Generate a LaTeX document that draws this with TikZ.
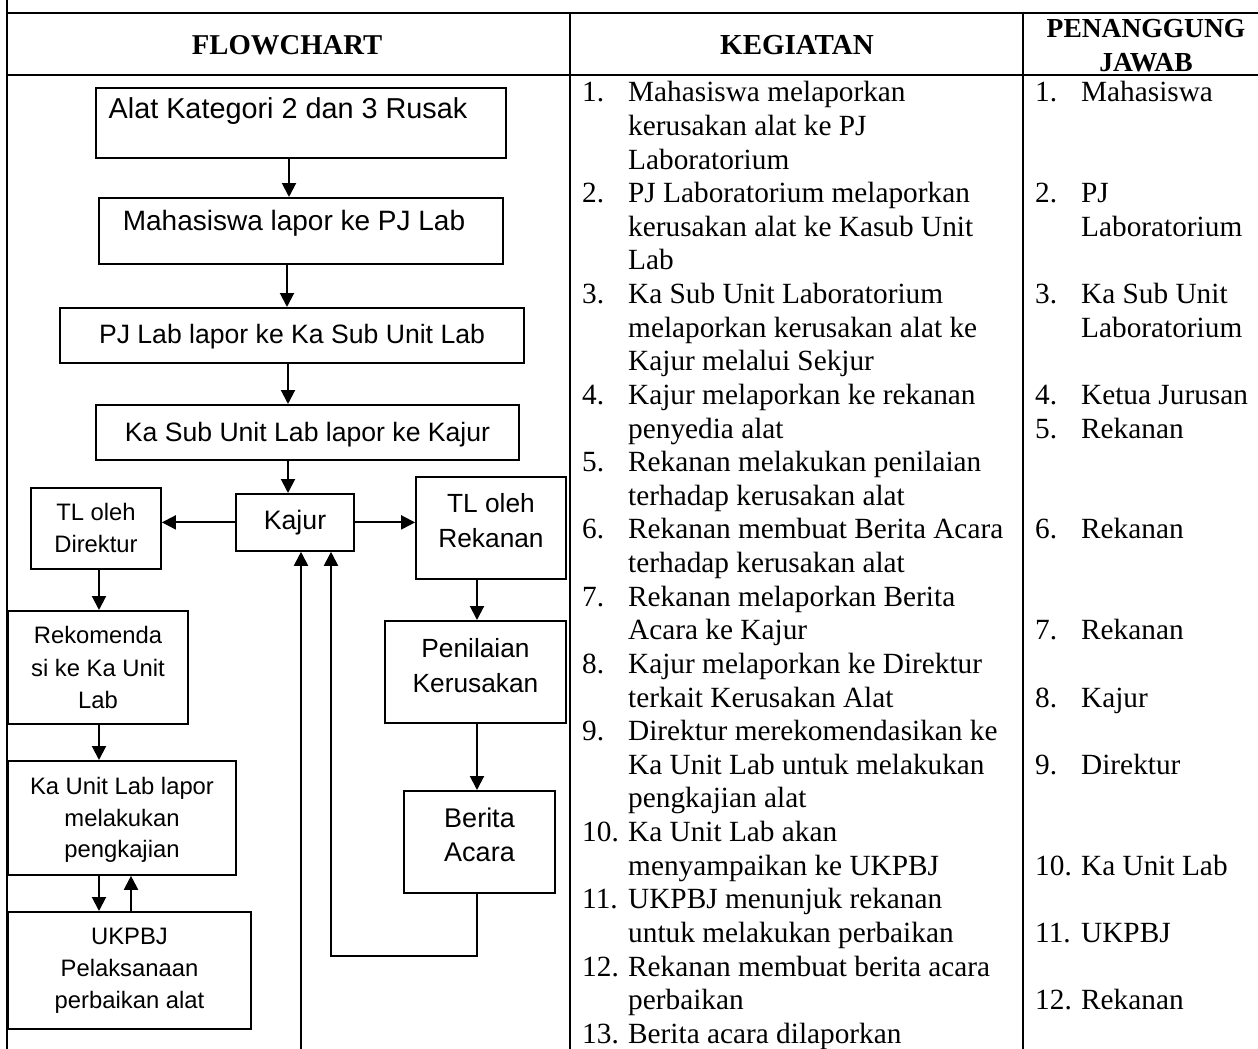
\documentclass[tikz,border=0pt]{standalone}
\usepackage{fontspec}
\setmainfont{Liberation Serif}
\newfontfamily\arialfont{Liberation Sans}
\usetikzlibrary{arrows.meta}
\newcommand{\fsz}[2]{\fontsize{#1}{#2}\selectfont}
\tikzset{
  tline/.style={line width=2pt},
  box/.style={draw, line width=1.8pt, inner sep=0pt, align=center, anchor=north},
  fnt/.style 2 args={font=\arialfont\fontsize{#1}{#2}\selectfont},
  arr/.style={line width=2pt, -{Triangle[length=14pt,width=14pt]}},
  hdr/.style={anchor=base, inner sep=0pt},
  col/.style={anchor=north west, inner sep=0pt, font=\fsz{29.3}{33.63}},
}
\begin{document}
\begin{tikzpicture}[x=1pt,y=-1pt]
\useasboundingbox (0,0) rectangle (1258,1049);
% table grid
\draw[tline] (6.5,0) -- (6.5,1049);
\draw[tline] (6.5,12.7) -- (1258,12.7);
\draw[tline] (6.5,75.5) -- (1258,75.5);
\draw[tline] (570,12.7) -- (570,1049);
\draw[tline] (1023,12.7) -- (1023,1049);
% headers
\node[hdr, font=\bfseries\fsz{28.7}{33}] (hflow) at (287,55) {FLOWCHART};
\node[hdr, font=\bfseries\fsz{29}{33}] (hkeg) at (797,55) {KEGIATAN};
\node[hdr, align=center, font=\bfseries\fsz{27.5}{34}] (hpj) at (1146,72) {PENANGGUNG\\JAWAB};
% flowchart boxes (text height = last baseline - top, text depth = bottom - last baseline)
\node[box, fnt={28.8}{33}, minimum width=410pt, text height=31pt, text depth=39pt] (b1) at (301,87) {Alat Kategori 2 dan 3 Rusak\hspace*{26pt}};
\node[box, fnt={28}{33}, minimum width=404pt, text height=33pt, text depth=33pt] (b2) at (301,197) {Mahasiswa lapor ke PJ Lab\hspace*{14pt}};
\node[box, fnt={26.6}{32}, minimum width=464pt, text height=36pt, text depth=19pt] (b3) at (292,307) {PJ Lab lapor ke Ka Sub Unit Lab};
\node[box, fnt={26.6}{32}, minimum width=423pt, text height=37pt, text depth=18pt] (b4) at (307.5,404) {Ka Sub Unit Lab lapor ke Kajur};
\node[box, fnt={26.7}{32}, minimum width=118pt, text height=36pt, text depth=21pt] (kajur) at (295,493) {Kajur};
\node[box, fnt={23.8}{32.4}, minimum width=130pt, text height=64.7pt, text depth=16.3pt] (tldir) at (96,487) {TL oleh\\Direktur};
\node[box, fnt={26.3}{35}, minimum width=150pt, text height=70.7pt, text depth=31.3pt] (tlrek) at (491,476) {TL oleh\\Rekanan};
\node[box, fnt={23.8}{32.2}, minimum width=180pt, text height=97.3pt, text depth=15.7pt] (rekom) at (98,610) {Rekomenda\\si ke Ka Unit\\Lab};
\node[box, fnt={23.8}{31.4}, minimum width=228pt, text height=96.7pt, text depth=17.3pt] (kaunit) at (122,760) {Ka Unit Lab lapor\\melakukan\\pengkajian};
\node[box, fnt={23.8}{32}, minimum width=243pt, text height=96.3pt, text depth=20.7pt] (ukpbj) at (129.5,911) {UKPBJ\\Pelaksanaan\\perbaikan alat};
\node[box, fnt={26.3}{35}, minimum width=181pt, text height=71.7pt, text depth=30.3pt] (penil) at (475.5,620) {Penilaian\\Kerusakan};
\node[box, fnt={27}{34}, minimum width=151pt, text height=70.7pt, text depth=31.3pt] (berita) at (479.5,790) {Berita\\Acara};
% helper coordinates
\coordinate (x289) at (289,0);
\coordinate (x287) at (287,0);
\coordinate (x288) at (288,0);
\coordinate (x99) at (99,0);
\coordinate (x131) at (131,0);
\coordinate (x477) at (477,0);
\coordinate (x331) at (331,0);
\coordinate (bot) at (301,1049);
% connectors
\draw[arr] (b1.south -| x289) -- (b2.north -| x289);
\draw[arr] (b2.south -| x287) -- (b3.north -| x287);
\draw[arr] (b3.south -| x288) -- (b4.north -| x288);
\draw[arr] (b4.south -| x288) -- (kajur.north -| x288);
\draw[arr] (kajur.west) -- (kajur.west -| tldir.east);
\draw[arr] (kajur.east) -- (kajur.east -| tlrek.west);
\draw[arr] (tldir.south -| x99) -- (rekom.north -| x99);
\draw[arr] (rekom.south -| x99) -- (kaunit.north -| x99);
\draw[arr] (kaunit.south -| x99) -- (ukpbj.north -| x99);
\draw[arr] (ukpbj.north -| x131) -- (kaunit.south -| x131);
\draw[arr] (tlrek.south -| x477) -- (penil.north -| x477);
\draw[arr] (penil.south -| x477) -- (berita.north -| x477);
\draw[arr] (berita.south -| x477) -- ++(0,62) -| (kajur.south -| x331);
\draw[arr] (bot) -- (bot |- kajur.south);
% kegiatan column
\node[col] (keg) at (582,78) {%
\begin{tabular}{@{}p{46pt}@{}l@{}}
1. & Mahasiswa melaporkan\\
 & kerusakan alat ke PJ\\
 & Laboratorium\\
2. & PJ Laboratorium melaporkan\\
 & kerusakan alat ke Kasub Unit\\
 & Lab\\
3. & Ka Sub Unit Laboratorium\\
 & melaporkan kerusakan alat ke\\
 & Kajur melalui Sekjur\\
4. & Kajur melaporkan ke rekanan\\
 & penyedia alat\\
5. & Rekanan melakukan penilaian\\
 & terhadap kerusakan alat\\
6. & Rekanan membuat Berita Acara\\
 & terhadap kerusakan alat\\
7. & Rekanan melaporkan Berita\\
 & Acara ke Kajur\\
8. & Kajur melaporkan ke Direktur\\
 & terkait Kerusakan Alat\\
9. & Direktur merekomendasikan ke\\
 & Ka Unit Lab untuk melakukan\\
 & pengkajian alat\\
10. & Ka Unit Lab akan\\
 & menyampaikan ke UKPBJ\\
11. & UKPBJ menunjuk rekanan\\
 & untuk melakukan perbaikan\\
12. & Rekanan membuat berita acara\\
 & perbaikan\\
13. & Berita acara dilaporkan
\end{tabular}};
% penanggung jawab column
\node[col] (pj) at (1035,78) {%
\begin{tabular}{@{}p{46pt}@{}l@{}}
1. & Mahasiswa\\
 & \\
 & \\
2. & PJ\\
 & Laboratorium\\
 & \\
3. & Ka Sub Unit\\
 & Laboratorium\\
 & \\
4. & Ketua Jurusan\\
5. & Rekanan\\
 & \\
 & \\
6. & Rekanan\\
 & \\
 & \\
7. & Rekanan\\
 & \\
8. & Kajur\\
 & \\
9. & Direktur\\
 & \\
 & \\
10. & Ka Unit Lab\\
 & \\
11. & UKPBJ\\
 & \\
12. & Rekanan
\end{tabular}};
\end{tikzpicture}
\end{document}
